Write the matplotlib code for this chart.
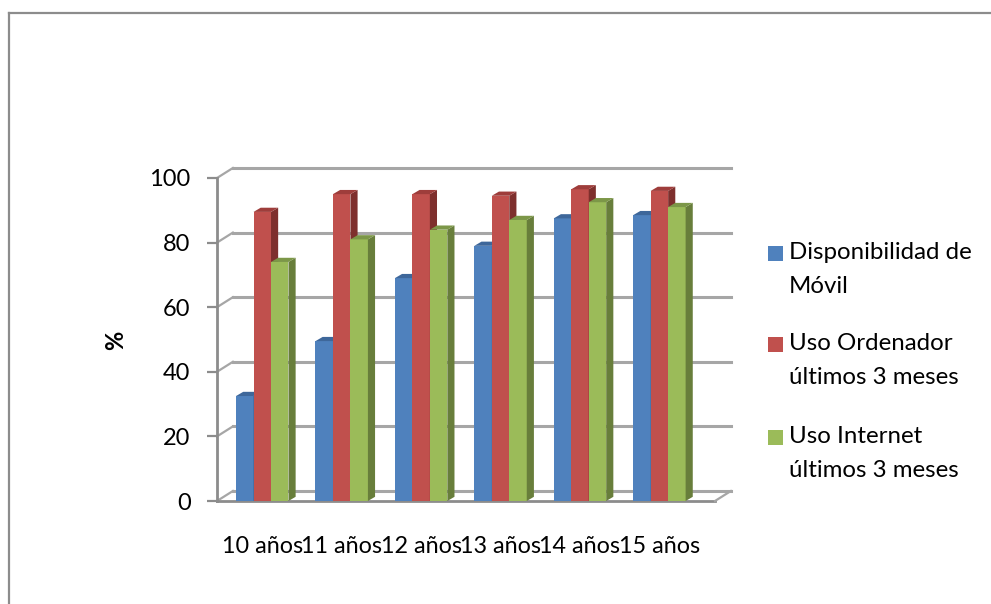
import numpy as np
import matplotlib.pyplot as plt
from matplotlib.patches import Polygon, Rectangle
from matplotlib.lines import Line2D

plt.rcParams['font.family'] = ['Lato', 'DejaVu Sans']

# data
edades = ['10 años', '11 años', '12 años', '13 años', '14 años', '15 años']
movil = [32.5, 49.5, 69, 79, 87.5, 88.5]
ordenador = [89.5, 95, 95, 94.5, 96.5, 96]
internet = [74, 81, 84, 87, 92.5, 91]
series = [movil, ordenador, internet]
nombres = ['Disponibilidad de\nMóvil', 'Uso Ordenador\núltimos 3 meses', 'Uso Internet\núltimos 3 meses']
y_ticks = [0, 20, 40, 60, 80, 100]

front = ['#4F81BD', '#C0504D', '#9BBB59']
side = ['#3A6094', '#7E2F2D', '#687E3B']
top = ['#3E679A', '#9E3D3B', '#7C9748']

W, H = 991, 604
fig = plt.figure(figsize=(W / 100, H / 100), dpi=100)

# outer chart border (only top and left visible)
fig.add_artist(Line2D([8.5 / W, 8.5 / W], [0, 1 - 13 / H], color='#8c8c8c', lw=1.6))
fig.add_artist(Line2D([8.5 / W, 1], [1 - 13 / H, 1 - 13 / H], color='#8c8c8c', lw=1.6))

x0_px, x1_px = 217, 715
y0_px, y100_px = 501, 178
xmin, xmax = -0.57, 5.70
ax = fig.add_axes([x0_px / W, (H - y0_px) / H, (x1_px - x0_px) / W, (y0_px - y100_px) / H])
ax.set_xlim(xmin, xmax)
ax.set_ylim(0, 100)
for s in ax.spines.values():
    s.set_visible(False)

# depth of the 3d box and of each bar (data units)
dx, dy = 0.2, 3.1
bdx, bdy = 0.09, 1.3
bw = 0.22
grid_c = '#a6a6a6'

# back wall gridlines and the slanted side wall edges
for v in y_ticks:
    ax.plot([xmin + dx, xmax + dx], [v + dy, v + dy], color=grid_c, lw=2.2, zorder=1, clip_on=False)
    ax.plot([xmin, xmin + dx], [v, v + dy], color=grid_c, lw=1.6, zorder=1, clip_on=False)
# floor
ax.plot([xmin, xmax], [0, 0], color='#8c8c8c', lw=2, zorder=1, clip_on=False)
ax.plot([xmax, xmax + dx], [0, dy], color=grid_c, lw=1.6, zorder=1, clip_on=False)
# front vertical axis
ax.plot([xmin, xmin], [0, 100], color='#8c8c8c', lw=2, zorder=1, clip_on=False)

x = np.arange(len(edades))
for i, vals in enumerate(series):
    bars = ax.bar(x + (i - 1) * bw, vals, width=bw, color=front[i], zorder=3 + i, linewidth=0)
    for r in bars:
        bx, bh, w = r.get_x(), r.get_height(), r.get_width()
        ax.add_patch(Polygon([(bx + w, 0), (bx + w + bdx, bdy), (bx + w + bdx, bh + bdy), (bx + w, bh)],
                             closed=True, facecolor=side[i], edgecolor='none', zorder=3 + i))
        ax.add_patch(Polygon([(bx, bh), (bx + bdx, bh + bdy), (bx + w + bdx, bh + bdy), (bx + w, bh)],
                             closed=True, facecolor=top[i], edgecolor='none', zorder=3 + i))

ax.set_yticks(y_ticks)
ax.tick_params(axis='y', length=7, width=1.6, color='#8c8c8c', pad=12, labelsize=17, labelcolor='black')
ax.set_xticks(x)
ax.set_xticklabels(edades)
ax.tick_params(axis='x', length=0, pad=25, labelsize=16.8, labelcolor='black')

fig.text(116 / W, 1 - 340 / H, '%', rotation=90, fontsize=17, fontweight='bold', ha='center', va='center')

# legend
leg_y = [253, 344, 437]
for i, nombre in enumerate(nombres):
    fig.add_artist(Rectangle((768 / W, 1 - (leg_y[i] + 7.5) / H), 15 / W, 15 / H, facecolor=front[i], edgecolor='none'))
    fig.text(789 / W, 1 - (leg_y[i] - 11) / H, nombre, fontsize=17.3, ha='left', va='top', linespacing=1.78)

fig.savefig('out.png', dpi=100)
